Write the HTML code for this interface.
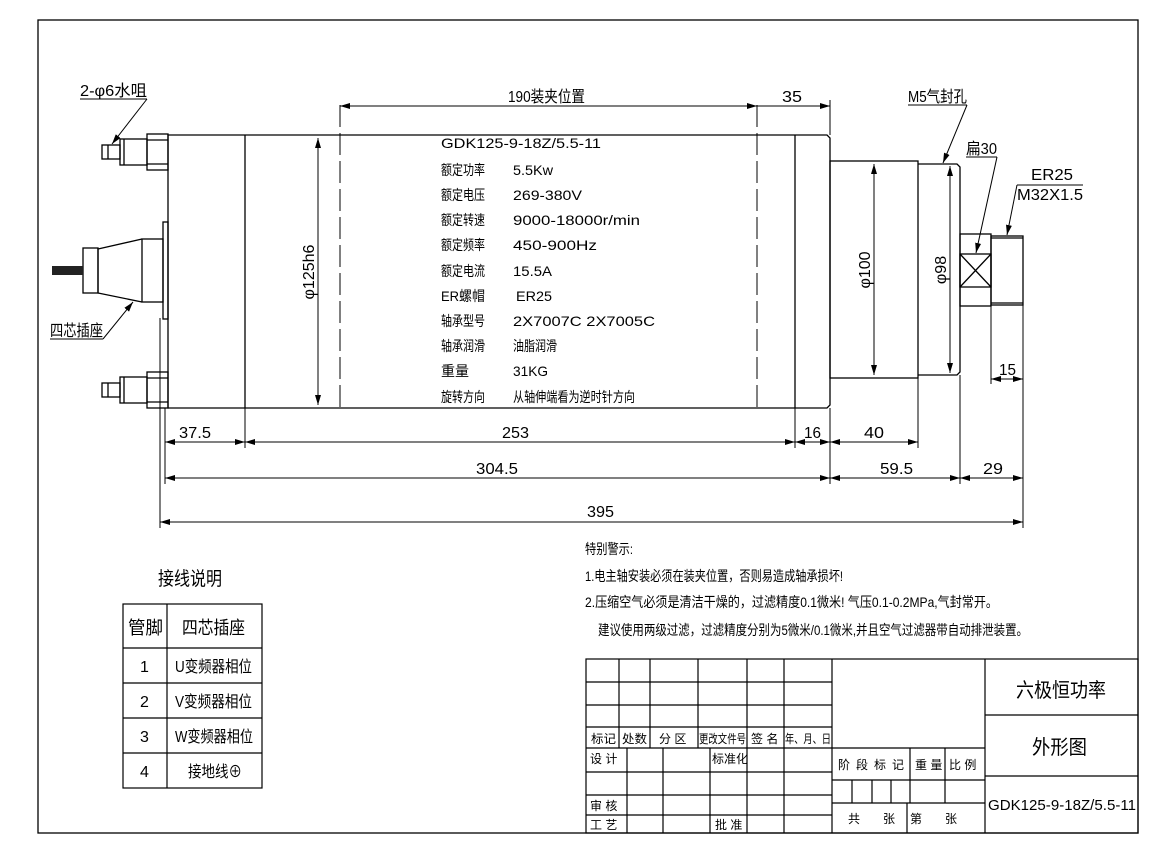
<!DOCTYPE html>
<html><head><meta charset="utf-8"><style>
html,body{margin:0;padding:0;background:#fff;}
svg{display:block;}
text{font-family:"Liberation Sans","Noto Sans CJK SC",sans-serif;fill:#000;}
</style></head><body>
<svg width="1176" height="851" viewBox="0 0 1176 851" xmlns="http://www.w3.org/2000/svg">
<defs>
<marker id="a" viewBox="0 0 10 6" refX="10" refY="3" markerWidth="10" markerHeight="6" orient="auto-start-reverse" markerUnits="userSpaceOnUse"><path d="M0,0L10,3L0,6z" fill="#000"/></marker>
</defs>
<g fill="none" stroke="#000" stroke-width="1.3">
<rect x="38" y="20" width="1100" height="813"/>
<path d="M168,135H827L830,138V405L827,408H168Z"/>
<line x1="245" y1="135" x2="245" y2="408"/>
<line x1="795" y1="135" x2="795" y2="408"/>
<line x1="340" y1="105" x2="340" y2="408" stroke-dasharray="22,6" stroke-width="1"/>
<line x1="757" y1="105" x2="757" y2="408" stroke-dasharray="22,6" stroke-width="1"/>
<rect x="147" y="134" width="21" height="36"/>
<line x1="147" y1="140" x2="168" y2="140"/><line x1="147" y1="164" x2="168" y2="164"/>
<rect x="120" y="139" width="27" height="26"/>
<line x1="124" y1="139" x2="124" y2="165"/>
<rect x="102" y="145" width="18" height="14"/>
<line x1="108" y1="145" x2="108" y2="159"/>
<rect x="147" y="372" width="21" height="36"/>
<line x1="147" y1="378" x2="168" y2="378"/><line x1="147" y1="402" x2="168" y2="402"/>
<rect x="120" y="377" width="27" height="26"/>
<line x1="124" y1="377" x2="124" y2="403"/>
<rect x="102" y="383" width="18" height="14"/>
<line x1="108" y1="383" x2="108" y2="397"/>
<rect x="163" y="222" width="5" height="97"/>
<rect x="142" y="239" width="21" height="63"/>
<path d="M142,239L98,249V293L142,302"/>
<rect x="83" y="248" width="15" height="45"/>
<rect x="830" y="161" width="88" height="217"/>
<path d="M918,164H957L960,167V372L957,375H918"/>
<rect x="960" y="234" width="31" height="72"/>
<rect x="960" y="254" width="31" height="33"/>
<line x1="960" y1="254" x2="991" y2="287"/><line x1="960" y1="287" x2="991" y2="254"/>
<rect x="991" y="236" width="32" height="69"/>
<line x1="991" y1="238" x2="1023" y2="238"/><line x1="991" y1="303" x2="1023" y2="303"/>
</g>
<rect x="52" y="266" width="31" height="9" fill="#222"/>
<g stroke="#000" stroke-width="1" fill="none">
<line x1="318" y1="138" x2="318" y2="405" marker-start="url(#a)" marker-end="url(#a)"/>
<line x1="874" y1="164" x2="874" y2="375" marker-start="url(#a)" marker-end="url(#a)"/>
<line x1="950" y1="166" x2="950" y2="373" marker-start="url(#a)" marker-end="url(#a)"/>
<line x1="340" y1="106" x2="757" y2="106" marker-start="url(#a)" marker-end="url(#a)"/>
<line x1="757" y1="106" x2="830" y2="106" marker-end="url(#a)"/>
<line x1="830" y1="100" x2="830" y2="135"/>
<line x1="160" y1="318" x2="160" y2="528"/>
<line x1="165" y1="408" x2="165" y2="484"/>
<line x1="245" y1="408" x2="245" y2="448"/>
<line x1="795" y1="408" x2="795" y2="448"/>
<line x1="830" y1="408" x2="830" y2="484"/>
<line x1="918" y1="378" x2="918" y2="448"/>
<line x1="960" y1="375" x2="960" y2="484"/>
<line x1="991" y1="306" x2="991" y2="384"/>
<line x1="1023" y1="305" x2="1023" y2="528"/>
<line x1="165" y1="442" x2="245" y2="442" marker-start="url(#a)" marker-end="url(#a)"/>
<line x1="245" y1="442" x2="795" y2="442" marker-start="url(#a)" marker-end="url(#a)"/>
<line x1="795" y1="442" x2="830" y2="442" marker-start="url(#a)" marker-end="url(#a)"/>
<line x1="830" y1="442" x2="918" y2="442" marker-start="url(#a)" marker-end="url(#a)"/>
<line x1="165" y1="478" x2="830" y2="478" marker-start="url(#a)" marker-end="url(#a)"/>
<line x1="830" y1="478" x2="960" y2="478" marker-start="url(#a)" marker-end="url(#a)"/>
<line x1="960" y1="478" x2="1023" y2="478" marker-start="url(#a)" marker-end="url(#a)"/>
<line x1="160" y1="522" x2="1023" y2="522" marker-start="url(#a)" marker-end="url(#a)"/>
<line x1="991" y1="379" x2="1023" y2="379" marker-start="url(#a)" marker-end="url(#a)"/>
<line x1="80" y1="99" x2="147" y2="99"/>
<line x1="147" y1="99" x2="112" y2="144" marker-end="url(#a)"/>
<line x1="50" y1="339" x2="103" y2="339"/>
<line x1="103" y1="339" x2="133" y2="302" marker-end="url(#a)"/>
<line x1="908" y1="105" x2="967" y2="105"/>
<line x1="967" y1="105" x2="943" y2="163" marker-end="url(#a)"/>
<line x1="966" y1="157" x2="997" y2="157"/>
<line x1="997" y1="157" x2="976" y2="253" marker-end="url(#a)"/>
<line x1="1017" y1="185" x2="1083" y2="185"/>
<line x1="1017" y1="185" x2="1007" y2="235" marker-end="url(#a)"/>
</g>
<g font-size="16">
<text x="80" y="96" textLength="67" lengthAdjust="spacingAndGlyphs">2-φ6水咀</text>
<text x="50" y="336" textLength="53" lengthAdjust="spacingAndGlyphs">四芯插座</text>
<text x="908" y="102" textLength="59" lengthAdjust="spacingAndGlyphs">M5气封孔</text>
<text x="966" y="154" textLength="31" lengthAdjust="spacingAndGlyphs">扁30</text>
<text x="1031" y="180" textLength="42" lengthAdjust="spacingAndGlyphs">ER25</text>
<text x="1017" y="200" textLength="66" lengthAdjust="spacingAndGlyphs">M32X1.5</text>
<text x="508" y="102" textLength="77" lengthAdjust="spacingAndGlyphs">190装夹位置</text>
<text x="782" y="102" textLength="20" lengthAdjust="spacingAndGlyphs">35</text>
<text x="179" y="438" textLength="32" lengthAdjust="spacingAndGlyphs">37.5</text>
<text x="502" y="438" textLength="27" lengthAdjust="spacingAndGlyphs">253</text>
<text x="804" y="438" textLength="17" lengthAdjust="spacingAndGlyphs">16</text>
<text x="864" y="438" textLength="20" lengthAdjust="spacingAndGlyphs">40</text>
<text x="476" y="474" textLength="42" lengthAdjust="spacingAndGlyphs">304.5</text>
<text x="880" y="474" textLength="33" lengthAdjust="spacingAndGlyphs">59.5</text>
<text x="983" y="474" textLength="20" lengthAdjust="spacingAndGlyphs">29</text>
<text x="587" y="517" textLength="27" lengthAdjust="spacingAndGlyphs">395</text>
<text x="999" y="375" textLength="17" lengthAdjust="spacingAndGlyphs">15</text>
<text transform="translate(314,272) rotate(-90)" text-anchor="middle">φ125h6</text>
<text transform="translate(870,270) rotate(-90)" text-anchor="middle">φ100</text>
<text transform="translate(946,270) rotate(-90)" text-anchor="middle">φ98</text>
</g>
<g font-size="14">
<text x="441" y="148" textLength="160" lengthAdjust="spacingAndGlyphs">GDK125-9-18Z/5.5-11</text>
<text x="441" y="175" textLength="44" lengthAdjust="spacingAndGlyphs">额定功率</text><text x="513" y="175" textLength="40" lengthAdjust="spacingAndGlyphs">5.5Kw</text>
<text x="441" y="200" textLength="44" lengthAdjust="spacingAndGlyphs">额定电压</text><text x="513" y="200" textLength="69" lengthAdjust="spacingAndGlyphs">269-380V</text>
<text x="441" y="225" textLength="44" lengthAdjust="spacingAndGlyphs">额定转速</text><text x="513" y="225" textLength="127" lengthAdjust="spacingAndGlyphs">9000-18000r/min</text>
<text x="441" y="250" textLength="44" lengthAdjust="spacingAndGlyphs">额定频率</text><text x="513" y="250" textLength="84" lengthAdjust="spacingAndGlyphs">450-900Hz</text>
<text x="441" y="276" textLength="44" lengthAdjust="spacingAndGlyphs">额定电流</text><text x="513" y="276" textLength="39" lengthAdjust="spacingAndGlyphs">15.5A</text>
<text x="441" y="301" textLength="44" lengthAdjust="spacingAndGlyphs">ER螺帽</text><text x="516" y="301" textLength="36" lengthAdjust="spacingAndGlyphs">ER25</text>
<text x="441" y="326" textLength="44" lengthAdjust="spacingAndGlyphs">轴承型号</text><text x="513" y="326" textLength="142" lengthAdjust="spacingAndGlyphs">2X7007C   2X7005C</text>
<text x="441" y="351" textLength="44" lengthAdjust="spacingAndGlyphs">轴承润滑</text><text x="513" y="351" textLength="44" lengthAdjust="spacingAndGlyphs">油脂润滑</text>
<text x="441" y="376" textLength="28" lengthAdjust="spacingAndGlyphs">重量</text><text x="513" y="376" textLength="35" lengthAdjust="spacingAndGlyphs">31KG</text>
<text x="441" y="402" textLength="44" lengthAdjust="spacingAndGlyphs">旋转方向</text><text x="513" y="402" textLength="122" lengthAdjust="spacingAndGlyphs">从轴伸端看为逆时针方向</text>
</g>
<g font-size="14">
<text x="585" y="554" textLength="48" lengthAdjust="spacingAndGlyphs">特别警示:</text>
<text x="585" y="581" textLength="258" lengthAdjust="spacingAndGlyphs">1.电主轴安装必须在装夹位置，否则易造成轴承损坏!</text>
<text x="585" y="607" textLength="413" lengthAdjust="spacingAndGlyphs">2.压缩空气必须是清洁干燥的，过滤精度0.1微米! 气压0.1-0.2MPa,气封常开。</text>
<text x="598" y="635" textLength="430" lengthAdjust="spacingAndGlyphs">建议使用两级过滤，过滤精度分别为5微米/0.1微米,并且空气过滤器带自动排泄装置。</text>
</g>
<text x="158" y="585" font-size="19" textLength="64" lengthAdjust="spacingAndGlyphs">接线说明</text>
<g fill="none" stroke="#000" stroke-width="1.2">
<rect x="123" y="604" width="139" height="184"/>
<line x1="167" y1="604" x2="167" y2="788"/>
<line x1="123" y1="648" x2="262" y2="648"/>
<line x1="123" y1="683" x2="262" y2="683"/>
<line x1="123" y1="718" x2="262" y2="718"/>
<line x1="123" y1="753" x2="262" y2="753"/>
</g>
<g font-size="16">
<text x="128" y="634" font-size="18" textLength="35" lengthAdjust="spacingAndGlyphs">管脚</text>
<text x="182" y="634" font-size="18" textLength="63" lengthAdjust="spacingAndGlyphs">四芯插座</text>
<text x="140" y="672">1</text>
<text x="140" y="707">2</text>
<text x="140" y="742">3</text>
<text x="140" y="777">4</text>
<text x="175" y="672" textLength="77" lengthAdjust="spacingAndGlyphs">U变频器相位</text>
<text x="175" y="707" textLength="77" lengthAdjust="spacingAndGlyphs">V变频器相位</text>
<text x="175" y="742" textLength="78" lengthAdjust="spacingAndGlyphs">W变频器相位</text>
<text x="188" y="777" textLength="54" lengthAdjust="spacingAndGlyphs">接地线⊕</text>
</g>
<g fill="none" stroke="#000" stroke-width="1.2">
<rect x="586" y="659" width="552" height="174"/>
<line x1="586" y1="682" x2="832" y2="682"/>
<line x1="586" y1="705" x2="832" y2="705"/>
<line x1="586" y1="727" x2="832" y2="727"/>
<line x1="586" y1="748" x2="832" y2="748"/>
<line x1="586" y1="772" x2="832" y2="772"/>
<line x1="586" y1="795" x2="832" y2="795"/>
<line x1="586" y1="815" x2="832" y2="815"/>
<line x1="619" y1="659" x2="619" y2="748"/>
<line x1="650" y1="659" x2="650" y2="748"/>
<line x1="698" y1="659" x2="698" y2="748"/>
<line x1="747" y1="659" x2="747" y2="748"/>
<line x1="784" y1="659" x2="784" y2="748"/>
<line x1="627" y1="748" x2="627" y2="833"/>
<line x1="663" y1="748" x2="663" y2="833"/>
<line x1="710" y1="748" x2="710" y2="833"/>
<line x1="747" y1="748" x2="747" y2="833"/>
<line x1="784" y1="748" x2="784" y2="833"/>
<line x1="832" y1="659" x2="832" y2="833"/>
<line x1="832" y1="748" x2="985" y2="748"/>
<line x1="832" y1="780" x2="985" y2="780"/>
<line x1="832" y1="803" x2="985" y2="803"/>
<line x1="852" y1="780" x2="852" y2="803"/>
<line x1="872" y1="780" x2="872" y2="803"/>
<line x1="891" y1="780" x2="891" y2="803"/>
<line x1="910" y1="748" x2="910" y2="803"/>
<line x1="945" y1="748" x2="945" y2="803"/>
<line x1="907" y1="803" x2="907" y2="833"/>
<line x1="985" y1="659" x2="985" y2="833"/>
<line x1="985" y1="715" x2="1138" y2="715"/>
<line x1="985" y1="776" x2="1138" y2="776"/>
</g>
<g font-size="12" fill="#333">
<text x="591" y="743" textLength="25" lengthAdjust="spacingAndGlyphs">标记</text><text x="622" y="743" textLength="25" lengthAdjust="spacingAndGlyphs">处数</text><text x="659" y="743">分 区</text>
<text x="699" y="743" textLength="47" lengthAdjust="spacingAndGlyphs">更改文件号</text>
<text x="751" y="743">签 名</text><text x="785" y="743" textLength="46" lengthAdjust="spacingAndGlyphs">年、月、日</text>
<text x="590" y="763">设 计</text><text x="712" y="763">标准化</text>
<text x="590" y="810">审 核</text><text x="590" y="829">工 艺</text><text x="715" y="829">批 准</text>
<text x="838" y="769" textLength="66" lengthAdjust="spacing">阶段标记</text>
<text x="915" y="769">重 量</text><text x="949" y="769">比 例</text>
<text x="848" y="823">共</text><text x="883" y="823">张</text><text x="910" y="823">第</text><text x="945" y="823">张</text>
</g>
<text x="1016" y="697" font-size="20" textLength="90" lengthAdjust="spacingAndGlyphs">六极恒功率</text>
<text x="1032" y="754" font-size="20" textLength="55" lengthAdjust="spacingAndGlyphs">外形图</text>
<text x="988" y="810" font-size="15" textLength="148" lengthAdjust="spacingAndGlyphs">GDK125-9-18Z/5.5-11</text>
</svg>
</body></html>
